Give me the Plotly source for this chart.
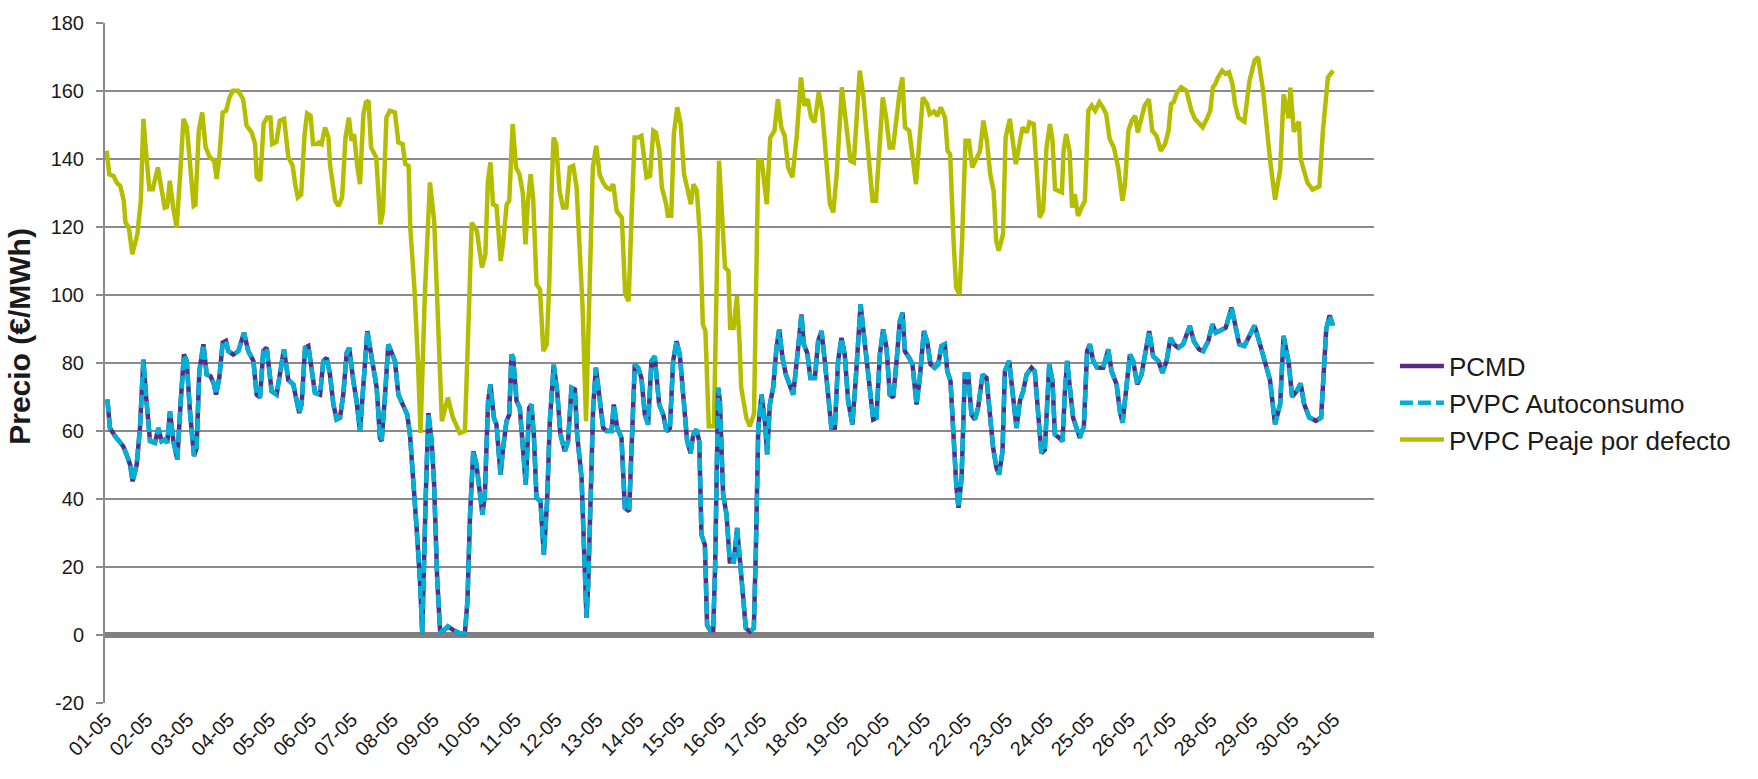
import plotly.graph_objects as go

day_labels = ["01-05","02-05","03-05","04-05","05-05","06-05","07-05","08-05","09-05","10-05",
              "11-05","12-05","13-05","14-05","15-05","16-05","17-05","18-05","19-05","20-05",
              "21-05","22-05","23-05","24-05","25-05","26-05","27-05","28-05","29-05","30-05","31-05"]
y_ticks = [-20, 0, 20, 40, 60, 80, 100, 120, 140, 160, 180]
y_tick_labels = ["-20", "0", "20", "40", "60", "80", "100", "120", "140", "160", "180"]

# hour of month (0 = 01-05 00:00) and price for PVPC Peaje por defecto
peaje_hour = [1,2.5,5,7,9,11,12,14,16,19,21,22.5,24,26,28,29,31,33,35,36.5,38,40,42,44,46,48,50,52,53,55,57,59,61.5,64,65.5,67,69,71,73,75,78,81,83,86,88,89,91,93,95,97,98,100.5,102.5,105,
 107.5,110,111.5,113,115,117,118.5,120.5,122,124,125.5,127,129,131,132,135,137,139,141,143,144.5,146,148,149.5,151.5,153,154.5,156,159,161.5,163,165,167,170,172,174.5,176,178,179,181.5,183.5,185,187.5,190.5,193,194.5,197.5,201,204,208,211,213,215,
 218,220,221,223,224.5,226,227.5,229.5,232,233.5,235.5,237,238,239,241,243,245,246.5,248,249.5,251,253,255,257,259,260.5,262,263,264.5,266.5,268.5,270.5,272.5,274.5,276.5,278.5,280,282,284,286,288,290,292,294,296,298,300,303,305,307,308.5,310.5,312.5,314.5,317.5,319.5,321.5,323,325,326.5,
 329,330,332,333.5,335.5,337.5,339.5,341.5,343.5,345,347,349,350.5,352,354,357,358.5,360,361.5,363.5,365.5,366.5,368.5,370.5,372,373,376,378,380.5,383,385,388,390,392.5,394.5,396.5,398.5,400.5,403,405.5,408,410,412,414,416,418.5,420.5,423,425,427,429,432,434.5,437,439,442.5,
 444.5,446.5,448.5,450,452,454,456,458,460,462,464,466,467.5,469,471.5,473.5,475.5,477.5,479.5,482,483.5,486,488,490,492.5,494,495.5,497.5,499,501,502.5,504.5,506.5,508.5,510.5,513,515,517,519,521,522.5,524,526.5,528,530.5,532.5,534,536.5,538,540.5,542,544.5,546.5,548,550,
 552,554,555.5,557,559.5,561,562,563.5,565.5,567,568.5,570.5,572.5,574.5,576.5,578.5,580.5,583,585,587,589,591.5,594,596.5,598,600,602,604,605.5,607.5,609.5,612,614,616.5,619,621.5,623.5,625,626.5,628.5,631,634,637,639,641.5,643.5,646,648,649.5,651,652.5,655,657,659,661,662.5,664.5,
 668,671,674,676,679,683,686,689,691,694,695,697,700,701,705,708,712,714,717,720]
peaje_value = [142.4,135.5,135,133,132,127.7,121.3,119.8,112,117.9,127.7,151.8,142.4,131.1,131.1,133.6,137.5,131.6,125.7,126,133.6,125.7,119.8,135,151.8,149.3,135.5,126.2,126.5,148.3,153.7,143.4,140.5,139.5,134.1,140.5,153.7,154.2,158.1,160.1,160.1,157.6,149.8,147.8,144.4,134.6,133.6,150.3,152.2,152.2,144.4,145,151.3,151.8,
 140.5,138,132.6,128.7,129.5,147.3,153.4,152.7,144.4,144.4,144.9,144.4,149.3,146.3,138,127.7,126.2,128.7,146.3,152.2,145.4,147.3,137.5,132.6,153.2,156.7,157.2,143.4,140.5,120.8,124.7,152.2,154.2,153.7,144.9,144.4,138.5,138,119.8,101.2,80,59.4,100,133.1,121.8,100,62.9,69.8,63.9,59.4,60,90,121.3,
 118.9,111,108.1,112,133.6,139,126.7,126.2,110,115.9,126.7,127.7,138.5,150.3,137.5,135.5,129.9,114.9,127.7,135.5,128.7,103.1,101.7,83.5,85.5,104.1,133.6,146.3,144.4,130.6,125.7,125.7,137.5,138,131.6,108.1,96.3,62.9,106.1,137.5,143.9,135.5,133.1,131.6,131.1,132.6,124.7,122.8,100.2,98.2,119.8,146.3,146.3,146.8,134.6,135,148.3,147.8,142.4,131.6,
 126.7,123.3,123.3,147.3,155.2,150.3,135.5,131.6,126.7,132.6,130.6,115.9,91.4,89.4,61.4,61.4,100,139.5,125.7,108.1,107.1,90.4,90.4,99.7,86.4,72.7,63.9,61.4,64.9,139.5,139.5,126.7,146.3,148.3,157.6,149.3,146.8,137.5,134.6,146.3,164,155.7,157.6,152.2,150.8,159.6,154.2,138.5,126.7,124.3,135.5,161.1,149.3,139.5,139,166,
 159.1,148.3,137.5,127.7,127.7,142.4,158.1,152.2,143.4,143.4,153.2,160.1,164,149.3,148.3,140.5,132.6,145.4,158.1,156.2,153.2,154,152.7,155.2,152.2,142.4,141.4,115.9,102.2,100.2,115.9,145.4,145.4,137.5,139.5,142.4,151.3,145.4,135.5,130.6,115.9,113,117.9,146.3,151.8,143.4,138.5,145.4,149.3,147.8,150.8,150.3,133.6,122.8,125,
 143.4,150.3,145.4,131.1,130.7,130.2,142.4,147.3,142.4,125.7,129.7,123.3,125.7,127.7,154.2,155.7,154.2,156.7,155.2,153.2,145.9,143.4,137.5,127.7,132.6,148.3,151.3,152.7,147.8,151.3,155.7,157.6,148.3,146.8,142.4,144.4,148.3,156.2,156.7,159.6,161.1,160.1,154.2,151.8,150.3,149.3,151.8,154.2,161.1,162.1,164,166,165,165.5,162.1,156.2,152.2,
 151,163,169,170,160,140,128,137,159,152,161,148,151,140,133,131,132,148,164,166]

# hour of month and price for PCMD and PVPC Autoconsumo
pcmd_hour = [1.4,2.9,5.9,8.8,10.7,12.7,14.7,16.2,18.6,20.5,22.5,24,26.4,29.3,31.3,33.2,35.2,36.5,38.1,40.1,42.4,44.4,46.3,47.9,49.8,52.2,53.7,55.3,57.7,59.6,61.9,63.9,65.1,67,69,70.9,72.3,75.2,78.2,81.5,84,87,88.9,90.9,92.8,94.8,97.7,100.6,102.6,104.9,
 107.5,110.4,112.4,113.9,115.3,117.3,119.2,121.2,123.1,126.1,128,130,131.9,133.9,135.8,137.8,139.7,141.7,143.2,145.6,147.5,149.5,151.5,153.8,155.4,157.3,159.3,161.2,162.2,164.2,166.1,168.1,170,172,173.9,175.9,177.2,178.8,180.8,182.7,184.7,186,188,189.6,191.5,192.9,194.8,196.5,199,201,204,208,211,212.5,214,
 215.9,217.8,219.8,221.3,222.7,224.6,226,228,229.5,231.9,233.4,235.4,237,238.3,239.3,241.3,243.2,245.2,246.7,248.7,250,251.4,253,255.3,257.3,259.2,260.8,263.1,265.1,267,269.6,271.5,273.5,275.5,276.8,279.4,281.3,282.3,283.3,284.6,286.2,287.8,290.1,292.1,294,297,298.3,300.3,302.8,304.8,307.3,308.7,310.6,312.6,314.5,316.5,318.4,320.4,322.3,324.9,
 327.3,329.2,331.2,333.1,335.1,337,339.4,341.3,343.3,344.9,346.8,348.4,349.7,351.7,353,354.6,356.6,357.7,359.5,360.5,362.4,364.4,366.3,368.7,370.6,372.2,374.1,375.7,378.1,380.4,381.6,383,384.9,386.9,388.2,389.8,391.7,393.7,395.3,397.2,399.2,401.5,403.5,405.4,408.3,409.7,411.7,413.6,416.2,418.1,420.1,422,424,425.9,427.9,429.8,431.8,433.7,435.7,438.2,440.2,
 443,444.9,446.9,448.8,450.4,452.3,454.3,456.2,458.2,460.1,462.1,464.1,466,467.6,468.9,471.5,473.4,475.8,477.7,480.1,482,484,486.5,488.5,490.4,492.4,493.8,495.7,497.7,499.2,500.4,502.2,504.1,506.1,508,510,511.9,514.5,516.8,518.8,520.7,522.7,524.2,526.2,527.6,530.1,532.4,534.4,536.4,538.3,540.3,543.2,545.1,547.1,549,551,
 553.6,555.5,556.9,559.4,561.4,562.8,564.1,565.7,567.6,569.6,571.5,573.9,575.8,577.4,579.4,581.7,585.2,588.2,590.1,593.1,595,596.6,598.5,600.9,602.8,605.2,607.7,609.7,612.2,614.5,617.5,620,622.4,624.7,626.7,629.2,632.1,636,638.4,641.5,643.8,646.8,649.3,651.3,653.6,657.1,660.5,662.4,665,
 668,674,678,683,686,689,691,694,696,699,701,703,706,710,713,716,718,720]
pcmd_value = [69.3,60.9,58.5,56.5,55.5,53,50.1,45.2,50.1,60.9,81,70.7,57,56.5,60.9,57,57.5,56.5,65.8,57,51.6,68.8,82.5,80.6,65.8,52.6,55,77.6,85.5,76.6,76.1,73.7,70.7,75.6,86,86.5,83.5,82.5,83.5,88.9,83.5,80.6,70.7,69.8,83.5,84.5,71.7,70.7,76.6,84,
 75,73.7,68.8,65.3,68,84.5,85,77.6,71.2,70.7,80.6,81.5,76.6,67.8,63.4,63.9,70.7,83,84.5,74.7,68.8,59.9,75.6,89.4,84.5,78.6,72.7,58,57,70.7,85.5,83,80.6,70.7,68.8,66.8,64.8,59,46.2,31.4,15.7,0.5,40,65.3,57,45,16,1,1.5,2.5,1.5,0.5,0.5,10,35,
 54,50.1,41.3,35.4,41.3,68.8,73.7,63.9,61.9,47.2,55,62.9,64.8,82.5,81.5,68.8,66.8,55,44.2,66.8,67.8,59,40.3,39.3,23.6,39.3,62.9,79.5,71.7,59,54,57,72.7,72.2,59,46.2,23.6,5,15,41.3,66.8,78.6,68.8,60.9,60,60,67.8,60.9,58,37.4,36.4,55,79.5,78.6,75.6,64.8,61.9,80.6,82,67.8,
 64.8,59.9,60.9,80.6,86.4,82.5,66.8,57,53.5,59,60.4,57,29.5,26.5,3,1.5,1.5,20,72.7,68.8,41.3,35.4,21.6,21.6,31.5,21.6,10,2,1,2,25,60.9,70.7,62.9,53.1,67.8,72.7,84.5,89.9,81.5,76.6,73.2,70.7,79.6,94.3,85.5,83,75.6,75.6,86.4,89.4,80.6,68.8,60.9,61,80.6,87.4,82.5,68.8,61.9,75.6,
 97.3,88.4,79.6,68.8,63.4,63.9,82.5,89.9,84.5,70.7,69.8,80.6,92.3,94.8,83.5,81.5,79.6,67.8,75.6,89.4,86.4,79.6,78.6,79.6,85,85.5,77.6,74.7,55,43.2,37.4,46.2,76.6,76.6,64.8,63.4,66.8,76.6,75.6,65.8,55,49.1,47.2,54,77.6,80.6,70.7,60.9,68.8,71.7,76.6,78.6,77.6,65.8,53.5,54.5,
 79.6,74.7,59,58,57,71.7,80.6,72.7,63.9,60.9,58,61.4,83.5,85.5,80.6,78.6,78.6,84,77.6,73.7,65.8,62.4,70.7,82.5,80.6,73.7,76.6,82.5,89.4,82,80.6,77.1,80.6,87.4,85.5,84.5,85.5,90.9,86.4,84,83.5,86.4,91.4,88.9,89.4,90.4,96.3,92.3,85.5,
 85,91,84,75,62,68,88,80,70,72,74,68,64,63,64,90,94,91]
autoconsumo_value = [69.3,60.9,58.5,56.5,55.5,53,50.1,45.2,50.1,60.9,81,70.7,57,56.5,60.9,57,57.5,56.5,65.8,57,51.6,68.8,82.5,80.6,65.8,52.6,55,77.6,85.5,76.6,76.1,73.7,70.7,75.6,86,86.5,83.5,82.5,83.5,88.9,83.5,80.6,70.7,69.8,83.5,84.5,71.7,70.7,76.6,84,
 75,73.7,68.8,65.3,68,84.5,85,77.6,71.2,70.7,80.6,81.5,76.6,67.8,63.4,63.9,70.7,83,84.5,74.7,68.8,59.9,75.6,89.4,84.5,78.6,72.7,58,57,70.7,85.5,83,80.6,70.7,68.8,66.8,64.8,59,46.2,31.4,15.7,0.5,40,65.3,57,45,16,1,1.5,2.5,1.5,0.5,0.5,10,35,
 54,50.1,41.3,35.4,41.3,68.8,73.7,63.9,61.9,47.2,55,62.9,64.8,82.5,81.5,68.8,66.8,55,44.2,66.8,67.8,59,40.3,39.3,23.6,39.3,62.9,79.5,71.7,59,54,57,72.7,72.2,59,46.2,23.6,5,15,41.3,66.8,78.6,68.8,60.9,60,60,67.8,60.9,58,37.4,36.4,55,79.5,78.6,75.6,64.8,61.9,80.6,82,67.8,
 64.8,59.9,60.9,80.6,86.4,82.5,66.8,57,53.5,59,60.4,57,29.5,26.5,3,1.5,1.5,20,72.7,68.8,41.3,35.4,21.6,21.6,31.5,21.6,10,2,1,2,25,60.9,70.7,62.9,53.1,67.8,72.7,84.5,89.9,81.5,76.6,73.2,70.7,79.6,94.3,85.5,83,75.6,75.6,86.4,89.4,80.6,68.8,60.9,61,80.6,87.4,82.5,68.8,61.9,75.6,
 97.3,88.4,79.6,68.8,63.4,63.9,82.5,89.9,84.5,70.7,69.8,80.6,92.3,94.8,83.5,81.5,79.6,67.8,75.6,89.4,86.4,79.6,78.6,79.6,85,85.5,77.6,74.7,55,43.2,37.4,46.2,76.6,76.6,64.8,63.4,66.8,76.6,75.6,65.8,55,49.1,47.2,54,77.6,80.6,70.7,60.9,68.8,71.7,76.6,78.6,77.6,65.8,53.5,54.5,
 79.6,74.7,59,58,57,71.7,80.6,72.7,63.9,60.9,58,61.4,83.5,85.5,80.6,78.6,78.6,84,77.6,73.7,65.8,62.4,70.7,82.5,80.6,73.7,76.6,82.5,89.4,82,80.6,77.1,80.6,87.4,85.5,84.5,85.5,90.9,86.4,84,83.5,86.4,91.4,88.9,89.4,90.4,96.3,92.3,85.5,
 85,91,84,75,62,68,88,80,70,72,74,68,64,63,64,90,94,91]

FONT = "Liberation Sans, Arial, sans-serif"
GREEN = "#B5BD00"
PURPLE = "#5B2B82"
CYAN = "#00B0D6"
GRID = "#8A8A8A"
TXT = "#1a1a1a"

fig = go.Figure()
fig.add_trace(go.Scatter(x=peaje_hour, y=peaje_value, mode="lines", name="PVPC Peaje por defecto",
                         line=dict(color=GREEN, width=4.5), legendrank=3))
fig.add_trace(go.Scatter(x=pcmd_hour, y=pcmd_value, mode="lines", name="PCMD",
                         line=dict(color=PURPLE, width=4.5), legendrank=1))
fig.add_trace(go.Scatter(x=pcmd_hour, y=autoconsumo_value, mode="lines", name="PVPC Autoconsumo",
                         line=dict(color=CYAN, width=4.5, dash="13px,5px"), legendrank=2))

tick_pos = [24 * k + 0.5 for k in range(len(day_labels))]

fig.update_layout(
    width=1758, height=779,
    margin=dict(l=105, r=384, t=23, b=76),
    plot_bgcolor="white", paper_bgcolor="white",
    font=dict(family=FONT, size=20, color=TXT),
    showlegend=True,
    legend=dict(x=1.0165, y=0.53, xanchor="left", yanchor="top",
                font=dict(family=FONT, size=26, color=TXT),
                bgcolor="rgba(0,0,0,0)", itemwidth=44, tracegroupgap=2),
    xaxis=dict(range=[0, 744], tickmode="array", tickvals=tick_pos, ticktext=day_labels,
               tickangle=-45, showgrid=False, zeroline=False, showline=False, ticks="",
               tickfont=dict(family=FONT, size=20, color=TXT)),
    yaxis=dict(range=[-20, 180], tickmode="array", tickvals=y_ticks, ticktext=y_tick_labels,
               showgrid=True, gridcolor=GRID, gridwidth=2,
               zeroline=True, zerolinecolor="#808080", zerolinewidth=6,
               showline=True, linecolor=GRID, linewidth=2,
               ticks="outside", ticklen=7, tickcolor=GRID, tickwidth=2, ticklabelstandoff=8,
               tickfont=dict(family=FONT, size=20, color=TXT)),
    annotations=[dict(text="<b>Precio (€/MWh)</b>", xref="paper", yref="paper",
                      x=-0.067, y=0.54, xanchor="center", yanchor="middle", textangle=-90,
                      showarrow=False, font=dict(family=FONT, size=30, color=TXT))],
)

fig.write_html("out.html", config={"displayModeBar": False},
               post_script="document.body.style.margin='0';")
